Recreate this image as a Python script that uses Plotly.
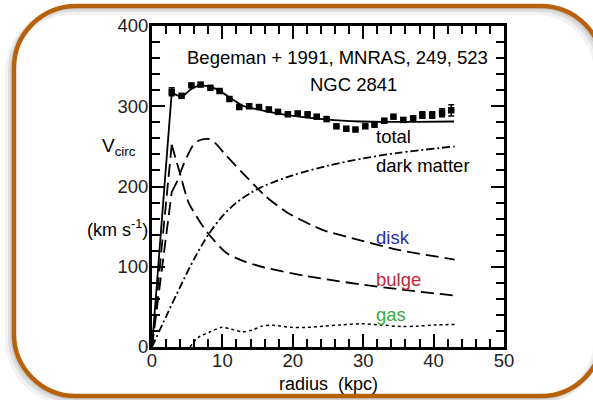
import plotly.graph_objects as go

# ---------------- data ----------------
r_obs = [2.8, 4.2, 5.6, 6.9, 8.3, 9.6, 11.0, 12.4, 13.8, 15.2, 16.6, 17.9, 19.3, 20.7, 22.1,
         23.4, 24.8, 26.2, 27.6, 28.9, 30.3, 31.6, 33.0, 34.3, 35.7, 37.1, 38.4, 39.8, 41.2, 42.5]
v_obs = [318, 313, 326, 327, 323, 319, 309, 299, 300, 299, 296, 293, 290, 291, 290,
         287, 284, 275, 272, 271, 275, 277, 282, 287, 283, 285, 289, 289, 292, 295]
v_err = [5, 0, 0, 0, 0, 0, 0, 0, 0, 0, 0, 0, 0, 0, 0,
         0, 0, 0, 0, 0, 0, 0, 0, 0, 0, 0, 4, 4, 5, 7]

r_tot = [0, 2.8, 4.2, 5.5, 6.5, 7.7, 9.0, 10.0, 11.2, 12.8, 14.5, 16.1, 19.3, 22.0, 24.2, 27.0, 29.6, 33.0, 37.6, 42.9]
v_tot = [0, 317, 312, 321, 325, 325.5, 322, 317, 310, 301, 297, 294, 289, 286, 284, 282, 281, 280.5, 280.5, 281]

r_disk = [0, 2.8, 3.5, 4.5, 5.8, 6.6, 7.4, 8.2, 9.0, 10.6, 13.3, 16.1, 19.3, 24.2, 29.6, 35.0, 43.0]
v_disk = [0, 193, 205, 228, 251, 257, 259, 259, 254, 238, 213, 188, 167, 146, 133, 121, 109]

r_bulge = [0, 2.8, 3.95, 5.2, 7.4, 9.0, 10.6, 13.0, 16.0, 21.5, 29.6, 35.0, 43.0]
v_bulge = [0, 252, 217, 180, 148, 131, 117, 107, 99, 89, 78, 72, 64]

r_dm = [0, 2.0, 4.0, 6.0, 8.0, 10.0, 12.0, 14.0, 16.0, 20.0, 25.0, 30.0, 35.0, 43.0]
v_dm = [0, 38, 75, 110, 140, 163, 180, 192, 201, 214, 226, 235, 242, 250]

r_gas = [5.4, 6.6, 8.3, 9.9, 11.3, 12.8, 14.2, 15.6, 17.3, 19.7, 22.1, 24.4, 26.8, 29.7, 32.5, 35.4, 37.7, 40.1, 43.0]
v_gas = [0, 12, 19, 24.5, 22, 19, 21, 26, 27, 24.5, 24.5, 26, 27.5, 29, 27.5, 25.5, 26, 27.5, 28]

x_ticks = [0, 10, 20, 30, 40, 50]
y_ticks = [0, 100, 200, 300, 400]

FONT = "Liberation Sans, Arial, Helvetica, sans-serif"

# ---------------- figure ----------------
fig = go.Figure()
lw = 1.8


def curve(xs, ys, dash=None, width=lw, straight_rise=True, smoothing=0.6):
    """Straight rising segment from the origin, then a smooth curve."""
    if straight_rise:
        fig.add_trace(go.Scatter(x=xs[:2], y=ys[:2], mode="lines",
                                 line=dict(color="black", width=width, dash=dash)))
        xs, ys = xs[1:], ys[1:]
    fig.add_trace(go.Scatter(x=xs, y=ys, mode="lines",
                             line=dict(color="black", width=width, dash=dash,
                                       shape="spline", smoothing=smoothing)))


curve(r_tot, v_tot)
curve(r_disk, v_disk, dash="13px,6px")
curve(r_bulge, v_bulge, dash="13px,6px")
curve(r_dm, v_dm, dash="8px,3px,2px,3px", straight_rise=False, smoothing=0.8)
curve(r_gas, v_gas, dash="dot", width=1.5, straight_rise=False, smoothing=0.8)

fig.add_trace(go.Scatter(x=r_obs, y=v_obs, mode="markers",
                         marker=dict(symbol="square", size=6.5, color="black"),
                         error_y=dict(type="data", array=v_err, visible=True, color="black", thickness=1.5, width=3)))

# layout geometry (pixels)
W, H = 593, 400
L, R, T, B = 152, 89, 26, 53
pw, ph = W - L - R, H - T - B


def px2paper(px, py):
    return (px - L) / pw, (H - B - py) / ph


def rounded_path(x0, y0, x1, y1, r):
    k = 0.5523 * r

    def P(x, y):
        a, b = px2paper(x, y)
        return f"{a:.5f},{b:.5f}"
    d = f"M {P(x0 + r, y0)} L {P(x1 - r, y0)} "
    d += f"C {P(x1 - r + k, y0)} {P(x1, y0 + r - k)} {P(x1, y0 + r)} "
    d += f"L {P(x1, y1 - r)} "
    d += f"C {P(x1, y1 - r + k)} {P(x1 - r + k, y1)} {P(x1 - r, y1)} "
    d += f"L {P(x0 + r, y1)} "
    d += f"C {P(x0 + r - k, y1)} {P(x0, y1 - r + k)} {P(x0, y1 - r)} "
    d += f"L {P(x0, y0 + r)} "
    d += f"C {P(x0, y0 + r - k)} {P(x0 + r - k, y0)} {P(x0 + r, y0)} Z"
    return d


shapes = []
# soft shadow
for off, a, w in [(5, 0.05, 8), (3, 0.08, 6), (1.5, 0.10, 4)]:
    shapes.append(dict(type="path", xref="paper", yref="paper",
                       path=rounded_path(14 - off, 6 + off, 603 - off, 396 + off, 62),
                       line=dict(color=f"rgba(0,0,0,{a})", width=w)))
shapes.append(dict(type="path", xref="paper", yref="paper",
                   path=rounded_path(14, 6, 603, 396, 62),
                   line=dict(color="#b8600a", width=4.5)))

annotations = []


def txt(x, y, s, color="black", size=18.5, xanchor="left", ref="data"):
    d = dict(x=x, y=y, text=s, showarrow=False, xanchor=xanchor, yanchor="middle",
             font=dict(family=FONT, size=size, color=color))
    if ref == "paper":
        d.update(xref="paper", yref="paper")
    annotations.append(d)


txt(26.3, 361, "Begeman + 1991, MNRAS, 249, 523", xanchor="center")
txt(28.6, 326.5, "NGC 2841", xanchor="center")
txt(31.6, 262, "total")
txt(31.5, 226, "dark matter")
txt(31.5, 136, "disk", color="#2430a8")
txt(31.5, 83.5, "bulge", color="#c0283c")
txt(31.5, 40.7, "gas", color="#3aaa3a")

xp, yp = px2paper(119, 147)
txt(xp, yp, "V<sub>circ</sub>", xanchor="center", ref="paper", size=19)
xp, yp = px2paper(117, 228)
txt(xp, yp, "(km s<sup>-1</sup>)", xanchor="center", ref="paper", size=18)
xp, yp = px2paper(328, 384)
txt(xp, yp, "radius\u00a0 (kpc)", xanchor="center", ref="paper", size=18)

axis_common = dict(
    showgrid=False, zeroline=False,
    showline=True, linecolor="black", linewidth=3, mirror="ticks",
    ticks="inside", ticklen=13, tickwidth=2, tickcolor="black",
    tickfont=dict(family=FONT, size=18.5, color="#222"),
)

fig.update_layout(
    width=W, height=H,
    margin=dict(l=L, r=R, t=T, b=B),
    paper_bgcolor="white", plot_bgcolor="white",
    showlegend=False,
    shapes=shapes,
    annotations=annotations,
    xaxis=dict(range=[0, 50], tickvals=x_ticks, ticktext=[str(v) for v in x_ticks],
               ticklabelstandoff=-5,
               minor=dict(ticks="inside", dtick=2, tick0=0, ticklen=8, tickwidth=2, tickcolor="black"),
               **axis_common),
    yaxis=dict(range=[0, 400], tickvals=y_ticks, ticktext=[str(v) for v in y_ticks],
               ticklabelstandoff=-3,
               minor=dict(ticks="inside", dtick=20, tick0=0, ticklen=8, tickwidth=2, tickcolor="black"),
               **axis_common),
)

fig.write_html("out.html", config={"displayModeBar": False},
               post_script="document.body.style.margin='0';document.body.style.overflow='hidden';")
